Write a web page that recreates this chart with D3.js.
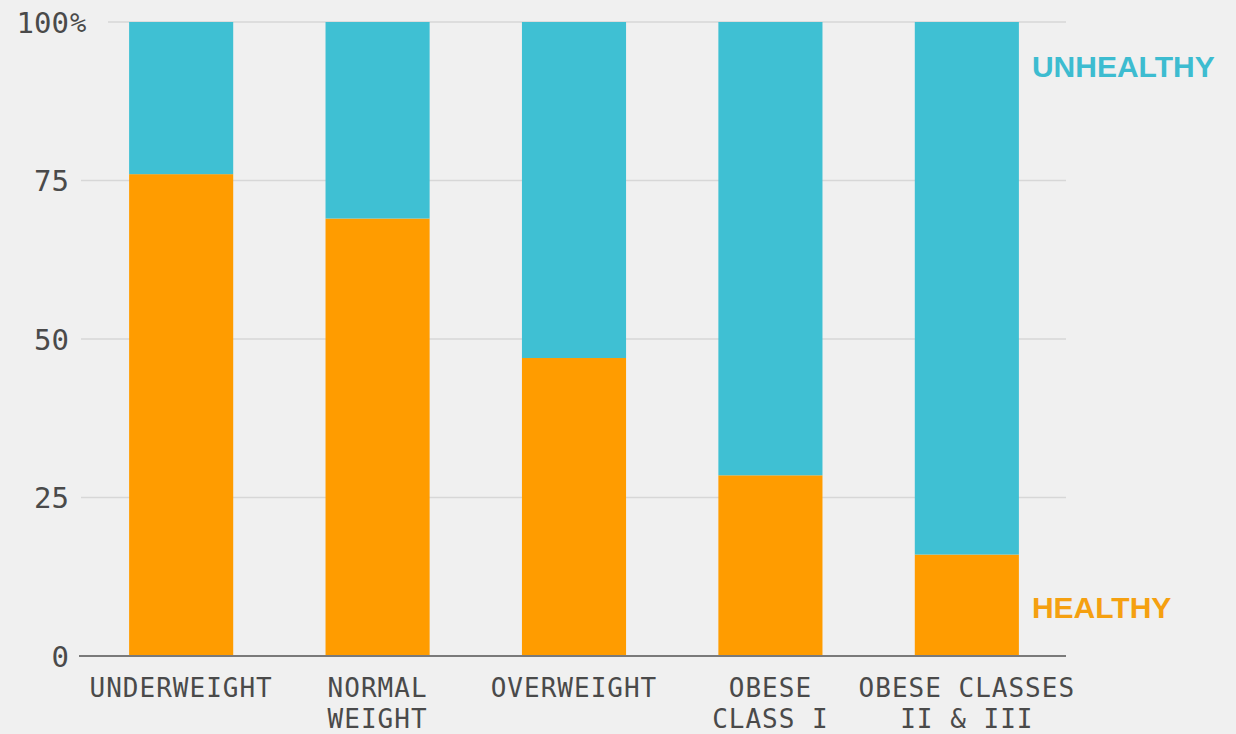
<!DOCTYPE html>
<html>
<head>
<meta charset="utf-8">
<script src="https://cdn.jsdelivr.net/npm/d3@7"></script>
<style>
  html, body { margin: 0; padding: 0; background: #f0f0f0; }
  svg { display: block; }
  .tick-label, .cat-label { font-family: "DejaVu Sans Mono", "Liberation Mono", monospace; fill: #4a4a4a; }
  .key { font-family: "Liberation Sans", Arial, sans-serif; font-weight: bold; }
</style>
</head>
<body>
<div id="chart"></div>
<script>
// Data
var categories = ["Underweight", "Normal weight", "Overweight", "Obese class I", "Obese classes II & III"];
var catLabels = [["UNDERWEIGHT"], ["NORMAL", "WEIGHT"], ["OVERWEIGHT"], ["OBESE", "CLASS I"], ["OBESE CLASSES", "II & III"]];
var healthy = [76, 69, 47, 28.5, 16];
var unhealthy = [24, 31, 53, 71.5, 84];
var yTicks = [0, 25, 50, 75, 100];

var width = 1236, height = 734;
var orange = "#ff9c00", teal = "#3fc0d3";

var svg = d3.select("#chart")
    .append("svg")
    .attr("width", width)
    .attr("height", height);

svg.append("rect")
    .attr("width", width)
    .attr("height", height)
    .attr("fill", "#f0f0f0");

var x = d3.scaleBand()
    .domain(categories)
    .range([80, 1068])
    .paddingInner(0.47)
    .paddingOuter(0.25);

var y = d3.scaleLinear()
    .domain([0, 100])
    .range([656, 22]);

// gridlines (the 100% one starts after the % sign)
svg.append("g")
    .selectAll("line")
    .data(yTicks.filter(d => d > 0))
    .enter().append("line")
    .attr("x1", d => d === 100 ? 108 : 81)
    .attr("x2", 1066)
    .attr("y1", d => y(d))
    .attr("y2", d => y(d))
    .attr("stroke", "#d7d7d7")
    .attr("stroke-width", 1.5);

// y axis labels
var yAxis = d3.axisLeft(y)
    .tickValues(yTicks)
    .tickSize(0)
    .tickPadding(0)
    .tickFormat(d3.format("d"));

var yg = svg.append("g")
    .attr("transform", "translate(69,0)")
    .call(yAxis);
yg.select(".domain").remove();
yg.selectAll("text")
    .attr("class", "tick-label")
    .attr("dy", "0.36em")
    .style("font-size", "29px")
    .attr("fill", null);

yg.append("text")
    .attr("class", "tick-label")
    .attr("text-anchor", "start")
    .attr("x", 1)
    .attr("y", y(100))
    .attr("dy", "0.36em")
    .style("font-size", "27px")
    .text("%");

// stacked bars
var stackData = categories.map((c, i) => ({ cat: c, healthy: healthy[i], unhealthy: unhealthy[i] }));
var series = d3.stack().keys(["healthy", "unhealthy"])(stackData);
var color = d3.scaleOrdinal().domain(["healthy", "unhealthy"]).range([orange, teal]);

svg.append("g")
    .selectAll("g")
    .data(series)
    .enter().append("g")
    .attr("fill", d => color(d.key))
    .selectAll("rect")
    .data(d => d)
    .enter().append("rect")
    .attr("x", d => x(d.data.cat))
    .attr("width", x.bandwidth())
    .attr("y", d => y(d[1]))
    .attr("height", d => y(d[0]) - y(d[1]));

// baseline
svg.append("line")
    .attr("x1", 79)
    .attr("x2", 1066)
    .attr("y1", y(0))
    .attr("y2", y(0))
    .attr("stroke", "#7a7a7a")
    .attr("stroke-width", 2);

// category labels, one text per line
var catG = svg.append("g");
catLabels.forEach(function(lines, i) {
    var cx = x(categories[i]) + x.bandwidth() / 2;
    catG.selectAll(null)
        .data(lines)
        .enter().append("text")
        .attr("class", "cat-label")
        .attr("text-anchor", "middle")
        .attr("xml:space", "preserve")
        .style("font-size", "26px")
        .style("letter-spacing", "1px")
        .attr("x", cx)
        .attr("y", (d, j) => 697 + j * 31)
        .text(d => d);
});

// key labels
var keyX = x(categories[4]) + x.bandwidth() + 13;
svg.append("text")
    .attr("class", "key")
    .attr("x", keyX)
    .attr("y", y(93))
    .attr("dy", "0.36em")
    .attr("fill", "#3dbcd0")
    .style("font-size", "30px")
    .text("UNHEALTHY");

svg.append("text")
    .attr("class", "key")
    .attr("x", keyX)
    .attr("y", y(7.7))
    .attr("dy", "0.36em")
    .attr("fill", "#f5a010")
    .style("font-size", "30px")
    .text("HEALTHY");
</script>
</body>
</html>
